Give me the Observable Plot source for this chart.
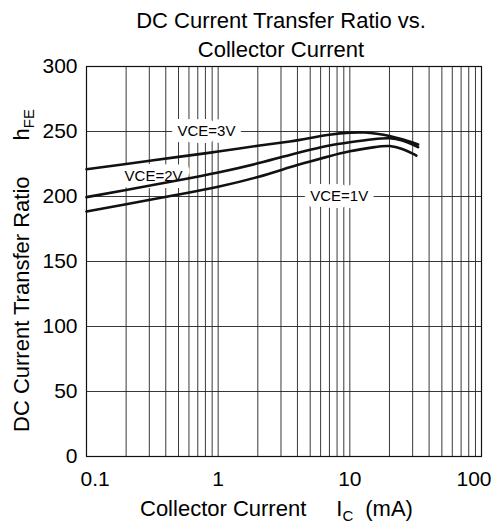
<!DOCTYPE html>
<html>
<head>
<meta charset="utf-8">
<script src="https://cdn.jsdelivr.net/npm/d3@7"></script>
<script src="https://cdn.jsdelivr.net/npm/@observablehq/plot@0.6"></script>
<style>
  html, body { margin: 0; padding: 0; background: white; }
  svg { display: block; }
</style>
</head>
<body>
<div id="chart"></div>
<script>
// ---- data ----
const titleLines = "DC Current Transfer Ratio vs.\nCollector Current";

const gridXValues = [0.1,0.2,0.3,0.4,0.5,0.6,0.7,0.8,0.9,
                     1,2,3,4,5,6,7,8,9,
                     10,20,30,40,50,60,70,80,90,100];
const yTickValues = [0, 50, 100, 150, 200, 250, 300];
const xTickMid = [1, 10];
const xTickFirst = [0.1];
const xTickLast = [100];

// collector current (mA)
const ic3 = [0.1, 0.2, 0.5, 1, 2, 3.5, 5, 7, 10, 13, 16, 20, 25, 30, 33];
const hfe3 = [221, 225, 230.5, 234.6, 239, 242.3, 245, 247.5, 249.1, 249.2, 248.3, 246.6, 244, 241.5, 240];

const ic2 = [0.1, 0.2, 0.5, 1, 2, 3.5, 5, 7, 10, 15, 20, 25, 30, 33];
const hfe2 = [199.5, 205, 212.5, 218.5, 225.5, 232, 236, 239.3, 241.7, 244, 244.8, 243, 240, 238];

const ic1 = [0.1, 0.2, 0.5, 1, 2, 3.5, 5, 7, 10, 15, 20, 25, 30, 32];
const hfe1 = [188.5, 194, 201.5, 207.5, 215, 222.5, 227, 231, 234.8, 237.8, 238.8, 236.5, 233, 231.5];

const curveLabels = ["VCE=3V", "VCE=2V", "VCE=1V"];
const curveLabelX = [0.815, 0.323, 8.3];
const curveLabelY = [250, 216, 200];

// ---- tables ----
const toRows = (xs, ys) => xs.map((x, i) => ({x, y: ys[i]}));
const s3 = toRows(ic3, hfe3), s2 = toRows(ic2, hfe2), s1 = toRows(ic1, hfe1);
const labelRows = curveLabels.map((t, i) => ({text: t, x: curveLabelX[i], y: curveLabelY[i]}));

const font = "'Liberation Sans', Arial, Helvetica, sans-serif";

const chart = Plot.plot({
  width: 491,
  height: 526,
  marginTop: 66,
  marginBottom: 70,
  marginLeft: 86,
  marginRight: 10,
  style: {fontFamily: font, background: "white", color: "black"},
  x: {type: "log", domain: [0.1, 100], axis: null},
  y: {domain: [0, 300], axis: null},
  marks: [
    Plot.ruleX(gridXValues, {x: d => d, stroke: "#222", strokeWidth: 0.9}),
    Plot.ruleY(yTickValues, {y: d => d, stroke: "#222", strokeWidth: 0.9}),
    Plot.text(labelRows, {x: "x", y: "y", text: "text", fontSize: 15, fill: "black",
      stroke: "white", strokeWidth: 14}),
    Plot.line(s3, {x: "x", y: "y", curve: "natural", stroke: "#111", strokeWidth: 2.6}),
    Plot.line(s2, {x: "x", y: "y", curve: "natural", stroke: "#111", strokeWidth: 2.6}),
    Plot.line(s1, {x: "x", y: "y", curve: "natural", stroke: "#111", strokeWidth: 2.6}),
    Plot.frame({stroke: "#111", strokeWidth: 1.2}),
    Plot.axisY(yTickValues, {tickSize: 0, tickPadding: 9, fontSize: 21, label: null, tickFormat: d => String(d)}),
    Plot.text(xTickMid, {x: d => d, frameAnchor: "bottom", dy: 29, text: d => String(d), fontSize: 21}),
    Plot.text(xTickFirst, {x: d => d, frameAnchor: "bottom", dy: 29, text: d => String(d), fontSize: 21, textAnchor: "start", dx: -6}),
    Plot.text(xTickLast, {x: d => d, frameAnchor: "bottom", dy: 29, text: d => String(d), fontSize: 21, textAnchor: "end", dx: 10}),
    Plot.text([titleLines], {frameAnchor: "top", text: d => d, fontSize: 22, lineAnchor: "bottom", lineHeight: 1.3, dy: -10, dx: -3})
  ]
});

document.getElementById("chart").appendChild(chart);

// axis titles with subscripts
const svg = d3.select(chart);
const yl = svg.append("text")
  .attr("transform", "translate(29,432) rotate(-90)")
  .attr("text-anchor", "start")
  .attr("font-family", font)
  .attr("font-size", 22)
  .attr("fill", "black");
yl.append("tspan").text("DC Current Transfer Ratio");
yl.append("tspan").attr("dx", 36).text("h");
yl.append("tspan").attr("font-size", 15).attr("dy", 5).text("FE");

const xl = svg.append("text")
  .attr("x", 140)
  .attr("y", 516)
  .attr("text-anchor", "start")
  .attr("font-family", font)
  .attr("font-size", 22)
  .attr("fill", "black");
xl.append("tspan").text("Collector Current");
xl.append("tspan").attr("dx", 30).text("I");
xl.append("tspan").attr("font-size", 15).attr("dy", 5).text("C");
xl.append("tspan").attr("dx", 12).attr("dy", -5).text("(mA)");
</script>
</body>
</html>
